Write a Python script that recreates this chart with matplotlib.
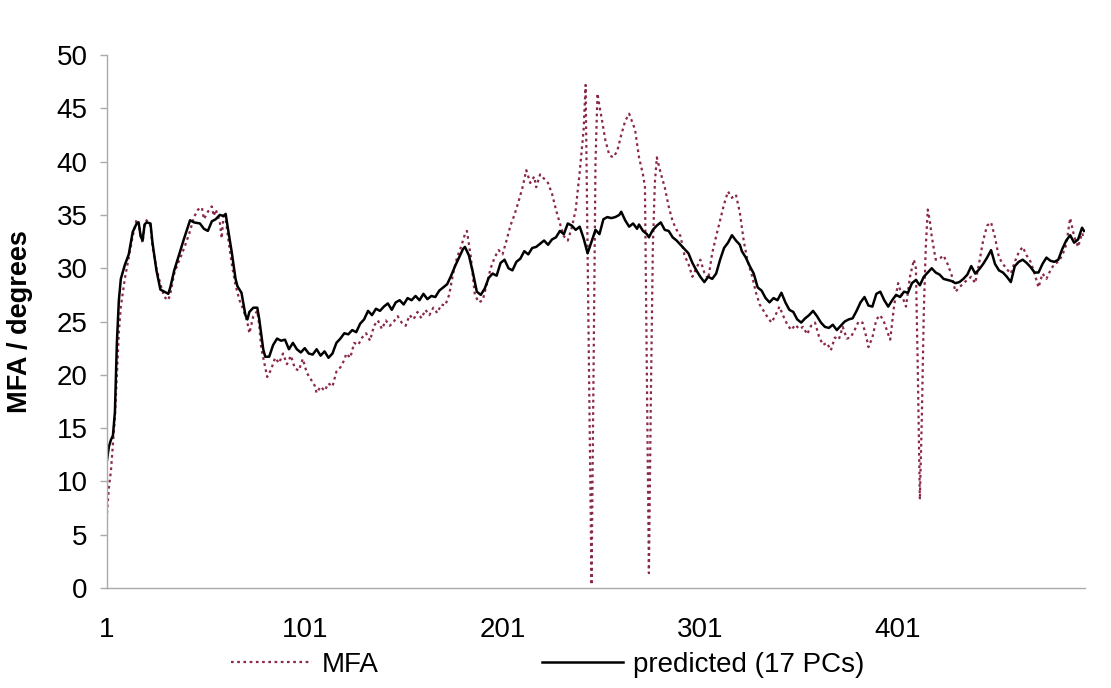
import matplotlib
matplotlib.use("Agg")
import matplotlib.pyplot as plt

plt.rcParams['font.family'] = ['Liberation Sans', 'DejaVu Sans']

# predicted MFA (17 PCs)
pred_x = [1, 2, 3, 4, 5, 6, 7, 8, 10, 12, 14, 16, 17, 18, 19, 20, 21, 23, 24, 26,
          28, 30, 32, 33, 35, 38, 40, 43, 45, 48, 50, 52, 54, 56, 58, 60, 61, 62, 64, 66,
          67, 69, 71, 72, 73, 75, 77, 78, 79, 80, 81, 83, 85, 87, 89, 91, 93, 95, 97, 99,
          101, 103, 105, 107, 109, 111, 113, 115, 117, 119, 121, 123, 125, 127, 129, 131, 133, 135, 137, 139,
          141, 143, 145, 147, 149, 151, 153, 155, 157, 159, 161, 163, 165, 167, 169, 171, 173, 175, 177, 179,
          181, 182, 184, 186, 188, 190, 192, 194, 196, 198, 200, 202, 204, 206, 208, 210, 212, 214, 216, 218,
          220, 222, 224, 226, 228, 230, 232, 234, 236, 238, 240, 242, 244, 246, 248, 250, 252, 254, 256, 258,
          260, 261, 263, 265, 267, 269, 270, 272, 274, 275, 277, 279, 281, 283, 285, 287, 289, 291, 293, 295,
          297, 299, 301, 303, 305, 307, 309, 311, 313, 315, 317, 319, 321, 322, 324, 326, 328, 330, 332, 334,
          336, 338, 340, 342, 344, 346, 348, 350, 352, 354, 356, 358, 360, 362, 364, 366, 368, 370, 372, 374,
          376, 378, 380, 382, 384, 386, 388, 390, 392, 394, 396, 398, 400, 402, 404, 406, 408, 410, 412, 414,
          416, 418, 420, 422, 424, 426, 428, 430, 432, 434, 436, 438, 440, 442, 444, 446, 448, 450, 452, 454,
          456, 458, 460, 462, 464, 466, 468, 470, 472, 474, 476, 478, 480, 482, 484, 486, 488, 490, 492, 494,
          495]
pred_y = [12.0, 13.3, 13.9, 14.3, 16.5, 23.0, 27.0, 29.0, 30.3, 31.3, 33.4, 34.2, 34.3, 33.0, 32.6, 34.1, 34.3, 34.2, 32.4, 29.8,
          28.0, 27.8, 27.6, 28.2, 29.8, 31.6, 32.8, 34.5, 34.3, 34.2, 33.7, 33.5, 34.4, 34.6, 35.0, 34.9, 35.1, 33.9, 31.6, 29.0,
          28.3, 27.7, 25.6, 25.2, 25.9, 26.3, 26.3, 25.2, 23.8, 22.4, 21.7, 21.7, 22.8, 23.4, 23.2, 23.3, 22.4, 23.0, 22.4, 22.1,
          22.5, 22.0, 21.9, 22.4, 21.8, 22.2, 21.6, 22.0, 23.0, 23.4, 23.9, 23.8, 24.2, 24.0, 24.8, 25.2, 26.0, 25.6, 26.2, 26.0,
          26.4, 26.7, 26.1, 26.8, 27.0, 26.6, 27.2, 27.0, 27.4, 27.0, 27.6, 27.1, 27.4, 27.3, 27.9, 28.2, 28.5, 29.3, 30.2, 31.0,
          31.8, 32.0, 31.2, 29.6, 27.8, 27.5, 28.1, 29.1, 29.5, 29.3, 30.5, 30.8, 30.0, 29.8, 30.6, 30.9, 31.6, 31.3, 31.9, 32.0,
          32.3, 32.6, 32.2, 32.7, 32.9, 33.5, 33.2, 34.2, 34.0, 33.6, 33.9, 32.8, 31.4, 32.5, 33.6, 33.2, 34.6, 34.8, 34.7, 34.8,
          35.0, 35.3, 34.5, 33.9, 34.2, 33.7, 34.1, 33.5, 33.2, 32.9, 33.6, 34.0, 34.3, 33.6, 33.5, 32.9, 32.6, 32.2, 31.8, 31.4,
          30.5, 29.8, 29.2, 28.7, 29.2, 29.0, 29.5, 30.8, 31.9, 32.4, 33.1, 32.6, 32.2, 31.6, 31.0, 30.2, 29.5, 28.2, 27.9, 27.2,
          26.8, 27.2, 27.0, 27.7, 26.8, 26.1, 25.9, 25.2, 24.9, 25.3, 25.6, 26.0, 25.5, 24.9, 24.5, 24.4, 24.7, 24.2, 24.6, 25.0,
          25.2, 25.3, 26.0, 26.8, 27.3, 26.5, 26.4, 27.6, 27.8, 27.0, 26.4, 27.0, 27.5, 27.3, 27.8, 27.7, 28.6, 28.9, 28.4, 29.2,
          29.6, 30.0, 29.6, 29.4, 29.0, 28.9, 28.8, 28.6, 28.7, 29.0, 29.4, 30.2, 29.5, 29.9, 30.4, 31.0, 31.7, 30.4, 29.8, 29.6,
          29.2, 28.7, 30.2, 30.6, 30.8, 30.5, 30.1, 29.6, 29.6, 30.4, 31.0, 30.7, 30.6, 30.8, 31.8, 32.6, 33.1, 32.4, 32.7, 33.8,
          33.5]

# measured MFA
mfa_x = [1, 2, 3, 4, 5, 6, 7, 8, 10, 12, 14, 16, 17, 18, 19, 20, 21, 23, 24, 26,
         28, 30, 32, 33, 35, 37, 39, 41, 43, 45, 47, 49, 50, 52, 54, 55, 56, 58, 59, 60,
         61, 62, 64, 66, 68, 70, 72, 73, 75, 77, 78, 79, 81, 82, 84, 86, 88, 90, 92, 94,
         96, 98, 100, 102, 104, 106, 107, 109, 111, 113, 115, 117, 119, 121, 122, 124, 126, 128, 130, 132,
         134, 136, 138, 140, 142, 144, 146, 148, 150, 152, 154, 156, 158, 160, 162, 164, 166, 168, 170, 172,
         174, 176, 178, 180, 182, 183, 185, 187, 189, 191, 193, 195, 197, 199, 201, 203, 205, 207, 209, 211,
         213, 215, 217, 218, 220, 222, 224, 226, 228, 230, 232, 234, 236, 238, 240, 242, 243, 244, 245, 246,
         247, 248, 249, 250, 251, 253, 255, 257, 259, 261, 263, 265, 266, 268, 270, 272, 273, 274, 275, 276,
         277, 278, 279, 281, 283, 285, 287, 289, 291, 293, 295, 297, 299, 301, 303, 305, 307, 309, 311, 313,
         315, 317, 319, 321, 323, 325, 327, 329, 331, 333, 335, 337, 339, 341, 343, 345, 347, 349, 351, 353,
         355, 357, 359, 361, 363, 365, 367, 369, 371, 373, 375, 377, 379, 381, 383, 385, 386, 388, 390, 392,
         394, 396, 397, 399, 401, 403, 405, 407, 409, 410, 411, 412, 413, 414, 415, 416, 417, 418, 420, 422,
         424, 426, 428, 430, 432, 434, 436, 438, 440, 442, 444, 446, 448, 450, 452, 454, 456, 458, 460, 462,
         464, 466, 468, 470, 472, 474, 476, 478, 480, 482, 484, 486, 488, 490, 492, 494, 495]
mfa_y = [7.0, 9.5, 11.0, 13.5, 16.0, 20.0, 24.0, 26.4, 29.0, 31.0, 33.0, 34.6, 34.2, 33.2, 32.4, 34.0, 34.5, 34.0, 32.0, 30.0,
         28.5, 27.3, 27.0, 27.6, 29.5, 30.5, 31.4, 32.4, 33.5, 34.8, 35.5, 35.7, 34.6, 35.3, 35.8, 34.9, 35.5, 34.4, 32.8, 35.2,
         34.6, 33.2, 30.5, 28.4, 27.0, 26.1, 24.9, 23.9, 25.5, 26.0, 24.6, 22.5, 20.7, 19.8, 20.5, 21.6, 21.1, 22.0, 21.0, 21.8,
         20.6, 20.4, 21.5, 20.2, 19.6, 19.0, 18.3, 18.9, 18.5, 19.2, 18.9, 20.3, 20.7, 21.4, 22.0, 21.6, 23.0, 22.8, 23.5, 23.9,
         23.2, 24.6, 25.1, 24.3, 25.1, 24.6, 25.0, 25.5, 24.9, 24.6, 25.6, 25.2, 25.9, 25.3, 26.1, 25.6, 26.3, 25.8, 26.6, 26.5,
         27.5, 29.5, 31.0, 32.0, 33.2, 33.5, 31.0, 27.5, 26.8, 27.0, 28.5, 30.0, 31.0, 31.7, 31.3, 32.6, 34.0, 35.0, 36.2, 37.5,
         39.2, 38.0, 38.6, 37.6, 38.8, 38.4, 38.0, 37.0, 35.5, 34.2, 33.0, 32.6, 33.8, 35.5, 39.0, 43.0, 47.2, 32.0, 16.0, 0.3,
         20.0, 40.0, 46.4, 45.2, 44.2, 42.0, 40.6, 40.4, 41.0, 42.5, 43.8, 44.5, 44.0, 43.0, 40.4, 38.8, 37.6, 19.0, 1.4, 18.0,
         32.0, 38.0, 40.4, 38.9, 37.6, 35.8, 34.4, 33.6, 33.0, 31.2, 30.4, 29.2, 30.0, 30.8, 29.6, 29.0, 31.4, 33.0, 34.5, 36.0,
         37.2, 36.6, 36.9, 35.2, 32.5, 30.6, 29.4, 27.8, 26.6, 26.0, 25.4, 24.9, 25.6, 26.4, 25.5, 24.7, 24.2, 24.7, 24.3, 24.5,
         23.8, 24.6, 24.9, 23.6, 22.8, 23.0, 22.3, 23.5, 23.3, 24.5, 23.4, 23.5, 24.2, 25.0, 24.9, 23.5, 22.6, 23.5, 25.2, 25.6,
         24.9, 23.8, 23.3, 26.5, 28.6, 27.4, 26.4, 29.2, 30.8, 30.0, 20.0, 8.3, 16.0, 26.0, 32.0, 35.5, 34.5, 33.0, 30.8, 30.9,
         31.2, 30.4, 29.4, 27.8, 28.2, 28.6, 28.9, 29.2, 28.6, 30.5, 32.6, 34.0, 34.3, 32.9, 31.0, 30.4, 29.9, 29.5, 30.6, 31.5,
         32.0, 31.2, 30.6, 29.5, 28.2, 29.5, 29.0, 29.8, 30.4, 30.6, 31.2, 32.2, 34.7, 33.0, 32.0, 33.3, 32.8]

x_ticks = [1, 101, 201, 301, 401]

fig = plt.figure(figsize=(11.11, 6.88), dpi=100)
ax = fig.add_axes([0.0963, 0.1453, 0.8803, 0.7747])

ax.plot(mfa_x, mfa_y, color='#8a2848', linestyle=(0, (1.2, 1.6)), linewidth=1.6, label='MFA')
ax.plot(pred_x, pred_y, color='black', linewidth=1.8, label='predicted (17 PCs)')

ax.set_xlim(1, 495.5)
ax.set_ylim(0, 50)
ax.set_xticks(x_ticks)
ax.set_yticks(range(0, 51, 5))
ax.tick_params(axis='y', length=5, width=1, color='#aaaaaa', labelsize=20, pad=9)
ax.tick_params(axis='x', length=0, labelsize=20, pad=21)

for s in ['top', 'right']:
    ax.spines[s].set_visible(False)
for s in ['left', 'bottom']:
    ax.spines[s].set_color('#aaaaaa')
    ax.spines[s].set_linewidth(1)

ax.set_ylabel('MFA / degrees', fontsize=19.5, fontweight='bold')
ax.yaxis.set_label_coords(-0.0757, 0.5)

fig.legend(loc='center', bbox_to_anchor=(0.493, 1 - 665 / 688), ncol=2, frameon=False,
           fontsize=20, handlelength=2.9, handletextpad=0.35, columnspacing=5.9)

fig.savefig('out.png', dpi=100)
